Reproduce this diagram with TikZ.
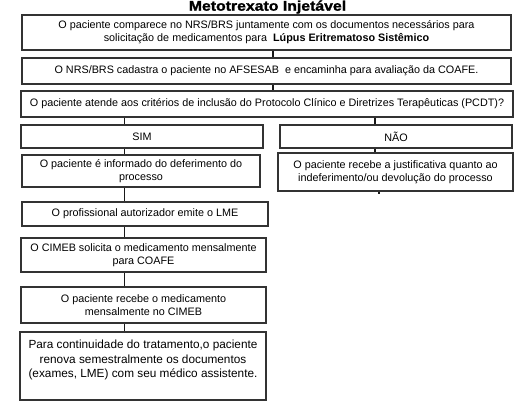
\documentclass[tikz,border=0pt]{standalone}
\usepackage{fontspec}
\setmainfont{Liberation Sans}
\newfontfamily\titlefont[FakeBold=1.5,FakeStretch=1.13]{Liberation Sans Bold}
\begin{document}
\begin{tikzpicture}[x=1pt,y=-1pt,
  box/.style={draw=black!80, line width=1.1pt, align=center, inner sep=0pt,
    font=\fontsize{10.8}{13}\selectfont},
  bigbox/.style={box, font=\fontsize{11.8}{14.5}\selectfont},
  conn/.style={draw=black!90, line width=1.1pt}]
\useasboundingbox (0,0) rectangle (530,416);
% connector end points (on the box edges)
\coordinate (s1) at (273,50);    \coordinate (e1) at (273,58);
\coordinate (s2) at (273,84);    \coordinate (e2) at (273,91);
\coordinate (s3) at (124.5,117); \coordinate (e3) at (124.5,125);
\coordinate (s4) at (375,117);   \coordinate (e4) at (375,125);
\coordinate (s5) at (124.5,148); \coordinate (e5) at (124.5,155);
\coordinate (s6) at (375,148);   \coordinate (e6) at (375,153);
\coordinate (s7) at (379,191);   \coordinate (e7) at (379,194);
\coordinate (s8) at (124.5,187); \coordinate (e8) at (124.5,202);
\coordinate (s9) at (124.5,226); \coordinate (e9) at (124.5,238);
\coordinate (s10) at (124.5,272); \coordinate (e10) at (124.5,287);
\coordinate (s11) at (124.5,323); \coordinate (e11) at (124.5,332);
\draw[conn] (s1) -- (e1);
\draw[conn] (s2) -- (e2);
\draw[conn] (s3) -- (e3);
\draw[conn] (s4) -- (e4);
\draw[conn] (s5) -- (e5);
\draw[conn] (s6) -- (e6);
\draw[conn] (s7) -- (e7);
\draw[conn] (s8) -- (e8);
\draw[conn] (s9) -- (e9);
\draw[conn] (s10) -- (e10);
\draw[conn] (s11) -- (e11);
\node[font=\fontsize{14}{15}\selectfont\titlefont] (title) at (267.5,7) {Metotrexato Injetável};
\node[box, minimum width=489, minimum height=35] (b1) at (266.5,32.5)
  {O paciente comparece no NRS/BRS juntamente com os documentos necessários para\\
   solicitação de medicamentos para\ \ \textbf{Lúpus Eritrematoso Sistêmico}};
\node[box, minimum width=489, minimum height=26] (b2) at (266.5,71)
  {O NRS/BRS cadastra o paciente no AFSESAB\ \ e encaminha para avaliação da COAFE.};
\node[box, minimum width=492, minimum height=26] (b3) at (267,104)
  {O paciente atende aos critérios de inclusão do Protocolo Clínico e Diretrizes Terapêuticas (PCDT)?};
\node[box, minimum width=242, minimum height=23] (sim) at (142,136.5) {SIM};
\node[box, minimum width=232, minimum height=23] (nao) at (396,136.5) {NÃO};
\node[box, minimum width=238, minimum height=32] (def) at (141,171)
  {O paciente é informado do deferimento do\\ processo};
\node[box, minimum width=235, minimum height=38] (indef) at (395.5,172)
  {O paciente recebe a justificativa quanto ao\\ indeferimento/ou devolução do processo};
\node[box, minimum width=246, minimum height=24] (lme) at (145,214)
  {O profissional autorizador emite o LME};
\node[box, minimum width=245, minimum height=34] (cimeb) at (143.5,255)
  {O CIMEB solicita o medicamento mensalmente\\ para COAFE};
\node[box, minimum width=245, minimum height=36] (recv) at (143.5,305)
  {O paciente recebe o medicamento\\ mensalmente no CIMEB};
\node[bigbox, minimum width=246, minimum height=68] (final) at (143,366)
  {Para continuidade do tratamento,o paciente\\ renova semestralmente os documentos\\ (exames, LME) com seu médico assistente.\\ \mbox{}};
\end{tikzpicture}
\end{document}
